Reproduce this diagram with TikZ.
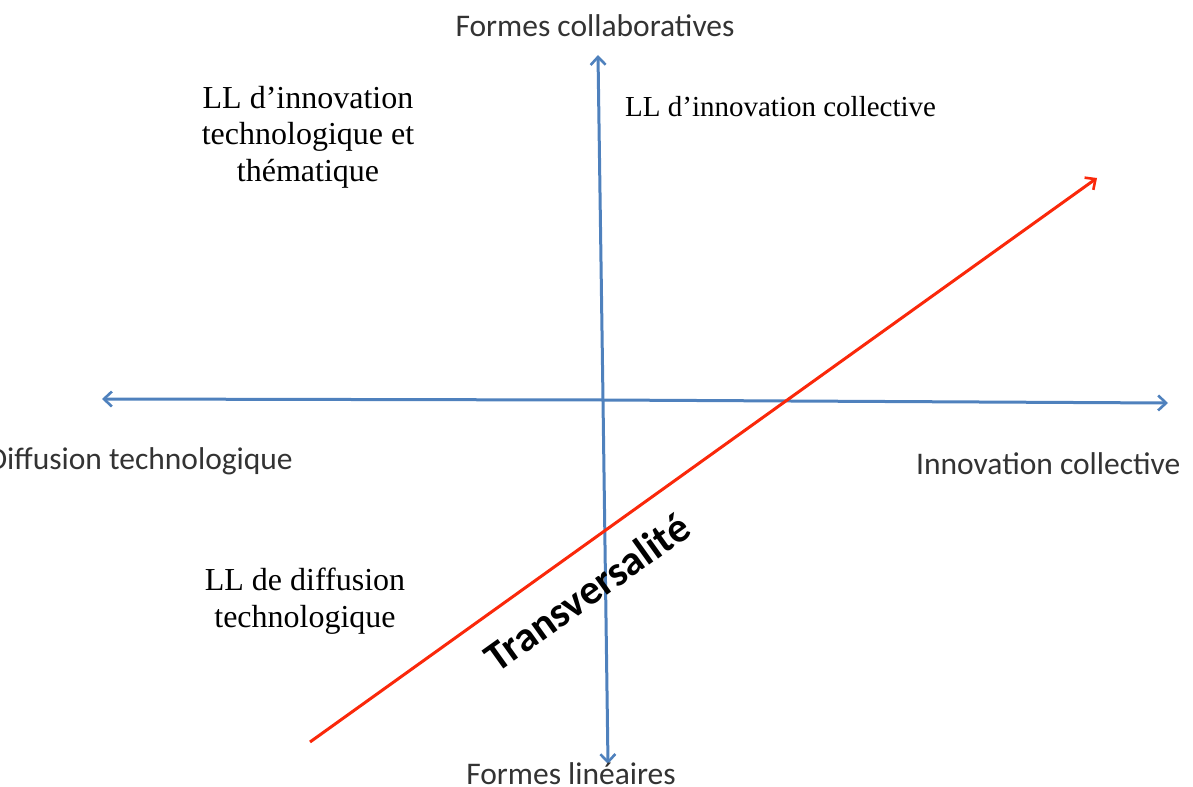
\documentclass[tikz,border=0pt]{standalone}
\usepackage{fontspec}
\setmainfont{Liberation Serif}
\newfontfamily\calib{Carlito}
\usetikzlibrary{arrows.meta}
\definecolor{axisblue}{RGB}{79,129,189}
\definecolor{redline}{RGB}{250,40,10}
\tikzset{
  axis/.style={draw=axisblue, line width=3bp, -{Straight Barb[length=8bp,width=15bp,line width=2.6bp]}},
  trans/.style={draw=redline, line width=3bp, -{Straight Barb[length=8bp,width=15bp,line width=2.6bp]}},
  axlabel/.style={font=\calib\fontsize{31.5bp}{36bp}\selectfont, text=black!80, inner sep=0pt},
  quad/.style={font=\fontsize{32bp}{36.5bp}\selectfont, align=center, inner sep=0pt},
}
\begin{document}
\begin{tikzpicture}[x=1bp,y=-1bp]
\useasboundingbox (0,0) rectangle (1193,787);
\clip (0,0) rectangle (1193,787);
\coordinate (vtop) at (598,55);
\coordinate (vbot) at (608,764);
\coordinate (hleft) at (102,399);
\coordinate (hright) at (1168,403);
\coordinate (rstart) at (310,742);
\coordinate (rend) at (1097,178);
\draw[axis] (603,400) -- (vtop);
\draw[axis] (603,400) -- (vbot);
\draw[axis] (603,400) -- (hleft);
\draw[axis] (603,400) -- (hright);
\draw[trans] (rstart) -- (rend);
\node[axlabel] (top) at (595,26) {Formes collaboratives};
\node[axlabel, anchor=east] (left) at (293,461) {Diffusion technologique};
\node[axlabel, anchor=west] (right) at (916,464) {Innovation collective};
\node[axlabel] (bot) at (571,774) {Formes linéaires};
\node[quad] (q1) at (308,137) {LL d’innovation\\technologique et\\thématique};
\node[quad, font=\fontsize{29bp}{36bp}\selectfont, anchor=west] (q2) at (625,107) {LL d’innovation collective};
\node[quad] (q3) at (305,601) {LL de diffusion\\technologique};
\node[font=\calib\bfseries\fontsize{42bp}{46bp}\selectfont, rotate=35.6, inner sep=0pt] (tr) at (587,592) {Transversalité};
\end{tikzpicture}
\end{document}
